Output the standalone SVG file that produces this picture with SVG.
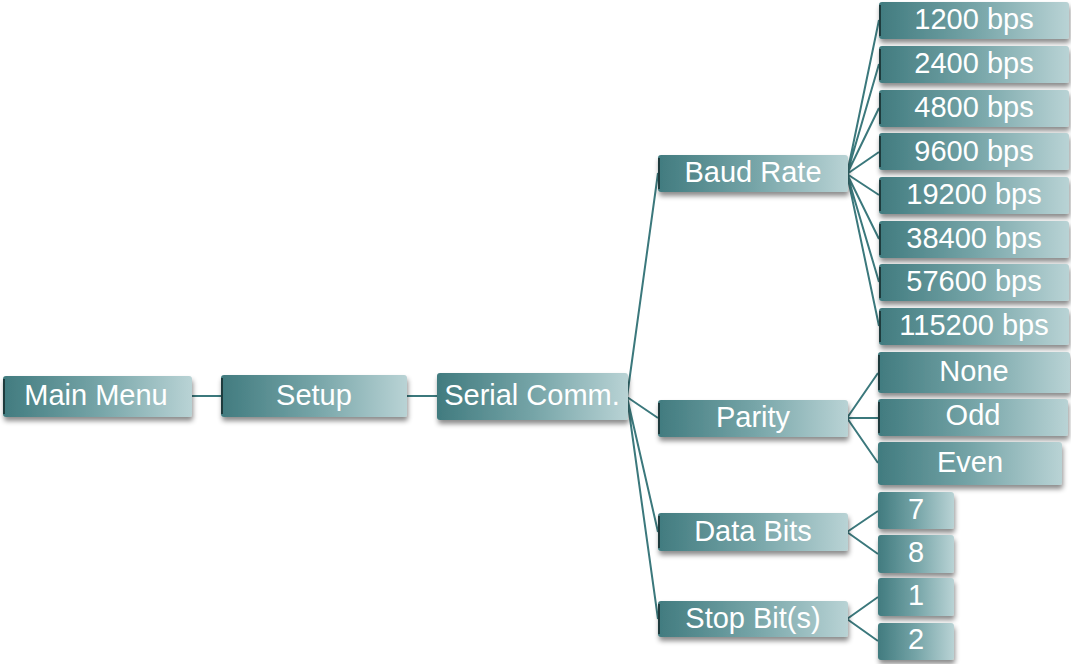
<svg xmlns="http://www.w3.org/2000/svg" width="1071" height="664" viewBox="0 0 1071 664">
<defs>
<linearGradient id="g" x1="0" y1="0" x2="1" y2="0">
<stop offset="0" stop-color="#417b7f"/>
<stop offset="0.5" stop-color="#75a4a7"/>
<stop offset="1" stop-color="#b9d3d5"/>
</linearGradient>
<filter id="sh" x="-10%" y="-20%" width="120%" height="160%">
<feDropShadow dx="1" dy="4" stdDeviation="2.5" flood-color="#000" flood-opacity="0.45"/>
</filter>
</defs>
<style>
.box{fill:url(#g);filter:url(#sh)}
.edge{fill:#1e3b3d}
.t{font-family:"Liberation Sans",Arial,sans-serif;font-size:29px;fill:#ffffff;text-anchor:middle;dominant-baseline:central}
.c{stroke:#3b787c;stroke-width:2;fill:none}
</style>
<rect width="1071" height="664" fill="#ffffff"/>
<g id="connectors">
<line class="c" x1="191" y1="396" x2="221" y2="396"/>
<line class="c" x1="407" y1="396" x2="437" y2="396"/>
<path class="c" d="M627 397 L658 173 M627 397 L658 418 M627 397 L658 532 M627 397 L658 619"/>
<path class="c" d="M847 174 L879 20 M847 174 L879 64 M847 174 L879 108 M847 174 L879 152 M847 174 L879 195 M847 174 L879 239 M847 174 L879 282 M847 174 L879 326"/>
<path class="c" d="M847 418 L878 373 M847 418 L878 418 M847 418 L878 463"/>
<path class="c" d="M847 532 L878 511 M847 532 L878 554"/>
<path class="c" d="M847 619 L878 597 M847 619 L878 641"/>
</g>
<g id="main"><rect class="box" x="3" y="376" width="189" height="41" rx="3"/><rect class="edge" x="3" y="379" width="2" height="35"/><text class="t" x="96" y="395">Main Menu</text></g>
<g id="setup"><rect class="box" x="221" y="375" width="186" height="42" rx="3"/><rect class="edge" x="221" y="378" width="2" height="36"/><text class="t" x="314" y="395">Setup</text></g>
<g id="serial"><rect class="box" x="437" y="373" width="191" height="47" rx="3"/><text class="t" x="532" y="395">Serial Comm.</text></g>
<g id="baud"><rect class="box" x="658" y="155" width="190" height="37" rx="3"/><rect class="edge" x="658" y="158" width="2" height="31"/><text class="t" x="753" y="172">Baud Rate</text></g>
<g id="parity"><rect class="box" x="658" y="400" width="190" height="37" rx="3"/><rect class="edge" x="658" y="403" width="2" height="31"/><text class="t" x="753" y="417">Parity</text></g>
<g id="databits"><rect class="box" x="658" y="513" width="190" height="38" rx="3"/><rect class="edge" x="658" y="516" width="2" height="32"/><text class="t" x="753" y="531">Data Bits</text></g>
<g id="stopbits"><rect class="box" x="658" y="601" width="190" height="36" rx="3"/><rect class="edge" x="658" y="604" width="2" height="30"/><text class="t" x="753" y="618">Stop Bit(s)</text></g>
<g id="b1200"><rect class="box" x="879" y="2" width="190" height="37" rx="3"/><rect class="edge" x="879" y="5" width="2" height="31"/><text class="t" x="974" y="19">1200 bps</text></g>
<g id="b2400"><rect class="box" x="879" y="46" width="190" height="37" rx="3"/><rect class="edge" x="879" y="49" width="2" height="31"/><text class="t" x="974" y="63">2400 bps</text></g>
<g id="b4800"><rect class="box" x="879" y="90" width="190" height="37" rx="3"/><rect class="edge" x="879" y="93" width="2" height="31"/><text class="t" x="974" y="107">4800 bps</text></g>
<g id="b9600"><rect class="box" x="879" y="133" width="190" height="37" rx="3"/><rect class="edge" x="879" y="136" width="2" height="31"/><text class="t" x="974" y="151">9600 bps</text></g>
<g id="b19200"><rect class="box" x="879" y="177" width="190" height="37" rx="3"/><rect class="edge" x="879" y="180" width="2" height="31"/><text class="t" x="974" y="194">19200 bps</text></g>
<g id="b38400"><rect class="box" x="879" y="221" width="190" height="37" rx="3"/><rect class="edge" x="879" y="224" width="2" height="31"/><text class="t" x="974" y="238">38400 bps</text></g>
<g id="b57600"><rect class="box" x="879" y="264" width="190" height="37" rx="3"/><rect class="edge" x="879" y="267" width="2" height="31"/><text class="t" x="974" y="281">57600 bps</text></g>
<g id="b115200"><rect class="box" x="879" y="308" width="190" height="37" rx="3"/><rect class="edge" x="879" y="311" width="2" height="31"/><text class="t" x="974" y="325">115200 bps</text></g>
<g id="none"><rect class="box" x="878" y="352" width="192" height="41" rx="3"/><rect class="edge" x="878" y="355" width="2" height="35"/><text class="t" x="974" y="371">None</text></g>
<g id="odd"><rect class="box" x="878" y="399" width="190" height="37" rx="3"/><rect class="edge" x="878" y="402" width="2" height="31"/><text class="t" x="973" y="415">Odd</text></g>
<g id="even"><rect class="box" x="878" y="442" width="184" height="43" rx="3"/><text class="t" x="970" y="462">Even</text></g>
<g id="d7"><rect class="box" x="878" y="492" width="76" height="37" rx="3"/><text class="t" x="916" y="509">7</text></g>
<g id="d8"><rect class="box" x="878" y="535" width="76" height="38" rx="3"/><text class="t" x="916" y="552">8</text></g>
<g id="s1"><rect class="box" x="878" y="578" width="76" height="38" rx="3"/><text class="t" x="916" y="595">1</text></g>
<g id="s2"><rect class="box" x="878" y="623" width="76" height="37" rx="3"/><text class="t" x="916" y="639">2</text></g>
</svg>
